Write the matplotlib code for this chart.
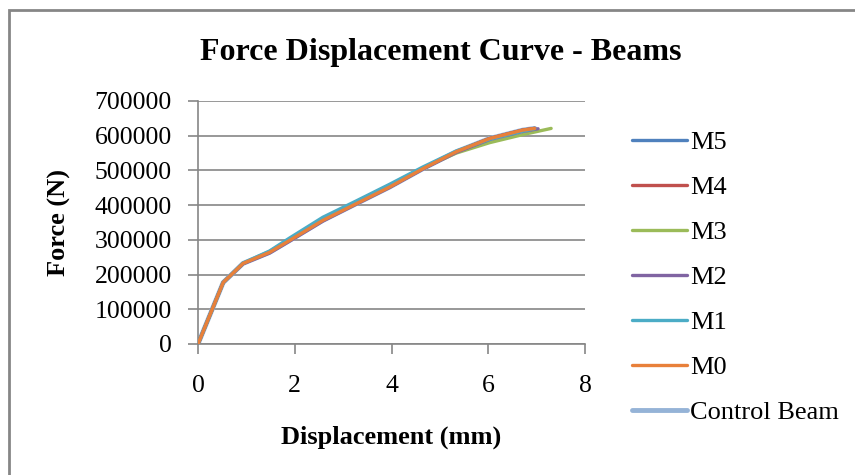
import matplotlib
matplotlib.use("Agg")
import matplotlib.pyplot as plt
from matplotlib.patches import Rectangle

plt.rcParams['font.family'] = ['Liberation Serif', 'DejaVu Serif']

# displacement (mm) / force (N)
x_base = [0, 0.52, 0.93, 1.48, 1.89, 2.58, 3.27, 3.96, 4.65, 5.34, 6.03, 6.71, 6.96]
f_base = [0, 177000, 232000, 264000, 298000, 356000, 404000, 452000, 505000, 554000, 592000, 616000, 621000]

x_m3 = [0, 0.52, 0.93, 1.48, 1.89, 2.58, 3.27, 3.96, 4.65, 5.34, 6.03, 6.71, 7.30]
f_m3 = [0, 177000, 232000, 266000, 302000, 360000, 410000, 458000, 507000, 550000, 580000, 603000, 621000]

x_m2 = [0, 0.52, 0.93, 1.48, 1.89, 2.58, 3.27, 3.96, 4.65, 5.34, 6.03, 6.71, 7.03]
f_m2 = [0, 177000, 231000, 262000, 296000, 354000, 403000, 451000, 504000, 552000, 589000, 612000, 620000]

x_m1 = [0, 0.52, 0.93, 1.48, 1.89, 2.58, 3.27, 3.96, 4.65, 5.34, 6.03, 6.71, 6.96]
f_m1 = [0, 177000, 233000, 268000, 305000, 365000, 412000, 460000, 510000, 556000, 590000, 613000, 620000]

series = [
    ("M5", x_base, f_base, "#4F81BD"),
    ("M4", x_base, f_base, "#C0504D"),
    ("M3", x_m3, f_m3, "#9BBB59"),
    ("M2", x_m2, f_m2, "#8064A2"),
    ("M1", x_m1, f_m1, "#4BACC6"),
    ("M0", x_base, f_base, "#E8803A"),
    ("Control Beam", x_base, f_base, "#95B3D7"),
]
zorders = [3, 3, 4, 5, 6, 7, 2]

fig = plt.figure(figsize=(8.55, 4.75), dpi=100)
ax = fig.add_axes([0.2316, 0.2758, 0.4526, 0.5116])

for (name, xs, fs, col), z in zip(series, zorders):
    lw = 3.5 if name == "Control Beam" else 2.4
    ax.plot(xs, fs, color=col, lw=lw, label=name, zorder=z, solid_capstyle='round')

ax.set_xlim(0, 8)
ax.set_ylim(0, 700000)
ax.set_xticks([0, 2, 4, 6, 8])
ax.set_yticks(range(0, 700001, 100000))
ax.yaxis.grid(True, color="#868686", lw=1.2)
ax.set_axisbelow(True)
for s in ["top", "right"]:
    ax.spines[s].set_visible(False)
for s in ["left", "bottom"]:
    ax.spines[s].set_color("#868686")
    ax.spines[s].set_linewidth(1.2)
ax.tick_params(colors="#868686", labelcolor="black", labelsize=18.5, length=7, width=1.2)
ax.tick_params(axis='y', pad=12)
ax.tick_params(axis='x', pad=15)

fig.text(0.457, 1 - 437 / 475, "Displacement (mm)", fontsize=19, fontweight='bold',
         ha='center', va='center')
fig.text(0.069, 1 - 223 / 475, "Force (N)", fontsize=19, fontweight='bold',
         ha='center', va='center', rotation=90)
fig.text(0.515, 0.89, "Force Displacement Curve - Beams", fontsize=23,
         fontweight='bold', ha='center', va='center')

fig.legend(loc='center left', bbox_to_anchor=(0.739, 0.416), frameon=False,
           fontsize=19, handlelength=2.1, handletextpad=0.1, labelspacing=0.82,
           borderaxespad=0, borderpad=0)

fig.patches.append(Rectangle((9 / 855, -0.05), 1.1, 1 - 10 / 475 + 0.05,
                             transform=fig.transFigure, fill=False,
                             edgecolor="#868686", lw=2))

fig.savefig("out.png", dpi=100)
